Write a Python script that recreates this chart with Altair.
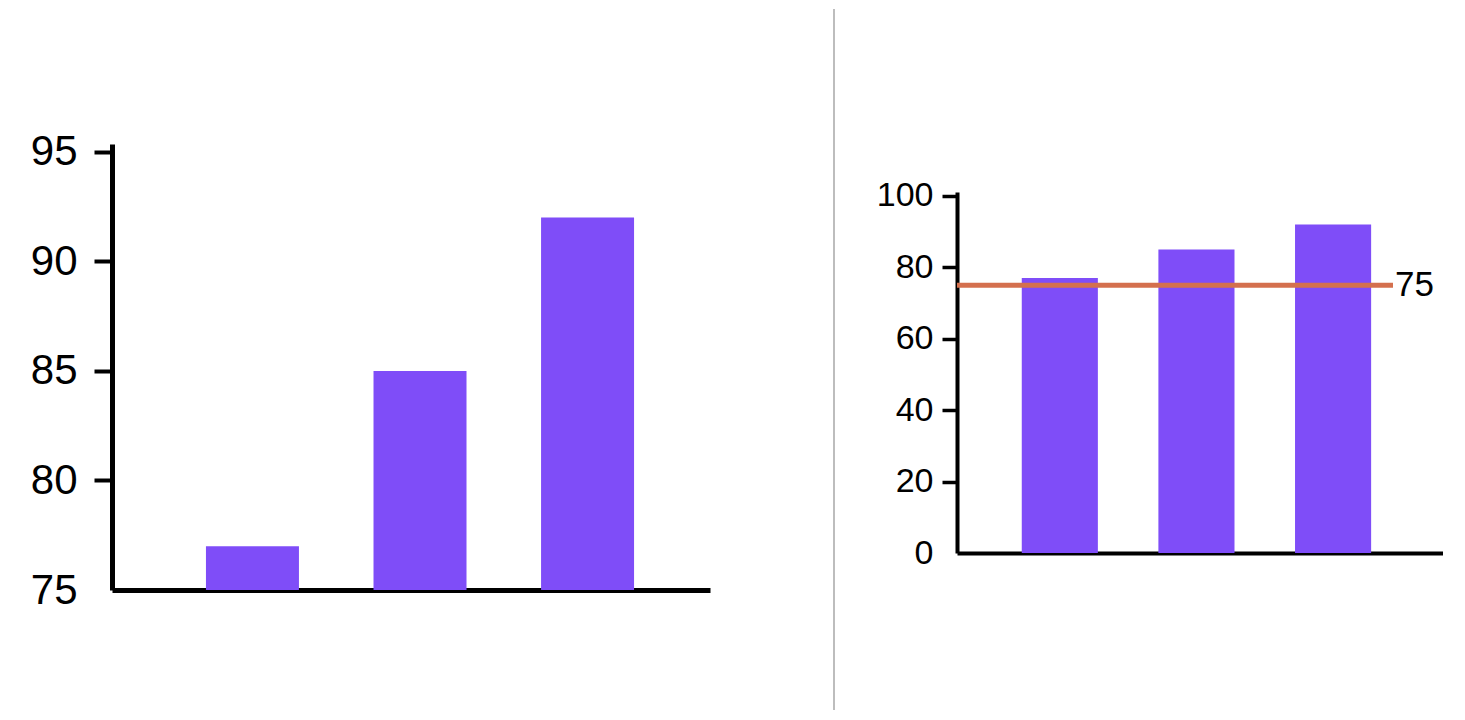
import altair as alt
import pandas as pd

# ---- data ----
categories = ["A", "B", "C"]
values = [77, 85, 92]
left_ticks = [75, 80, 85, 90, 95]
right_ticks = [0, 20, 40, 60, 80, 100]
threshold = [75]

BAR = "#7F4DF8"
RULE = "#D4704E"
FONT = "Liberation Sans"

df = pd.DataFrame({"cat": categories, "value": values})
thr = pd.DataFrame({"value": threshold, "label": [str(v) for v in threshold]})
dummy = pd.DataFrame({"value": [0]})

# ---- left panel (truncated axis) ----
left_y = alt.Y(
    "value:Q",
    scale=alt.Scale(domain=[75, 95.36], nice=False, zero=False),
    axis=alt.Axis(
        values=left_ticks, title=None, grid=False,
        domainColor="black", domainWidth=5,
        tickColor="black", tickWidth=4, tickSize=18,
        tickOpacity={"condition": {"test": "datum.value === 75", "value": 0}, "value": 1},
        labelPadding=17, labelFontSize=42, labelFont=FONT, labelColor="black",
        labelFlush=False, labelOverlap=False,
    ),
)
left_x = alt.X(
    "cat:N",
    scale=alt.Scale(paddingInner=0.445, paddingOuter=0.507, align=0.553),
    axis=alt.Axis(labels=False, ticks=False, title=None, grid=False,
                  domainColor="black", domainWidth=5),
)

left_bars = alt.Chart(df).mark_bar(color=BAR).encode(
    x=left_x, y=left_y, y2=alt.datum(75)
)
left_pad = alt.Chart(dummy).mark_rule(opacity=0, strokeWidth=2).encode(
    x=alt.value(-104), x2=alt.value(0), y=alt.value(-135)
)
left = alt.layer(left_bars, left_pad).properties(width=598, height=446)

# ---- right panel (full axis with reference line) ----
RH = 409
right_y = alt.Y(
    "value:Q",
    scale=alt.Scale(domain=[0, 101.1], nice=False, range=[RH, 48]),
    axis=alt.Axis(
        values=right_ticks, title=None, grid=False,
        domainColor="black", domainWidth=4,
        tickColor="black", tickWidth=3.5, tickSize=15,
        tickOpacity={"condition": {"test": "datum.value === 0", "value": 0}, "value": 1},
        labelPadding=9, labelFontSize=34, labelFont=FONT, labelColor="black",
        labelFlush=False, labelOverlap=False,
    ),
)
right_x = alt.X(
    "cat:N",
    scale=alt.Scale(paddingInner=0.443, paddingOuter=0.5, align=0.474),
    axis=alt.Axis(labels=False, ticks=False, title=None, grid=False,
                  domainColor="black", domainWidth=4),
)

right_bars = alt.Chart(df).mark_bar(color=BAR).encode(x=right_x, y=right_y)
right_rule = alt.Chart(thr).mark_rule(color=RULE, strokeWidth=5).encode(
    y=alt.Y("value:Q"), x=alt.value(0), x2=alt.value(436)
)
right_text = alt.Chart(thr).mark_text(
    align="left", baseline="middle", fontSize=35, font=FONT, color="black"
).encode(y=alt.Y("value:Q"), x=alt.value(438), text="label:N")
divider = alt.Chart(dummy).mark_rule(color="#BDBDBD", strokeWidth=2).encode(
    x=alt.value(-123), y=alt.value(-135), y2=alt.value(566)
)
right = alt.layer(right_bars, right_rule, right_text, divider).properties(
    width=486, height=RH
)

chart = (
    alt.hconcat(left, right, spacing=123)
    .properties(padding=0, background="white")
    .configure_view(stroke=None)
)

chart.save("out.html", embed_options={"renderer": "svg", "actions": False})
